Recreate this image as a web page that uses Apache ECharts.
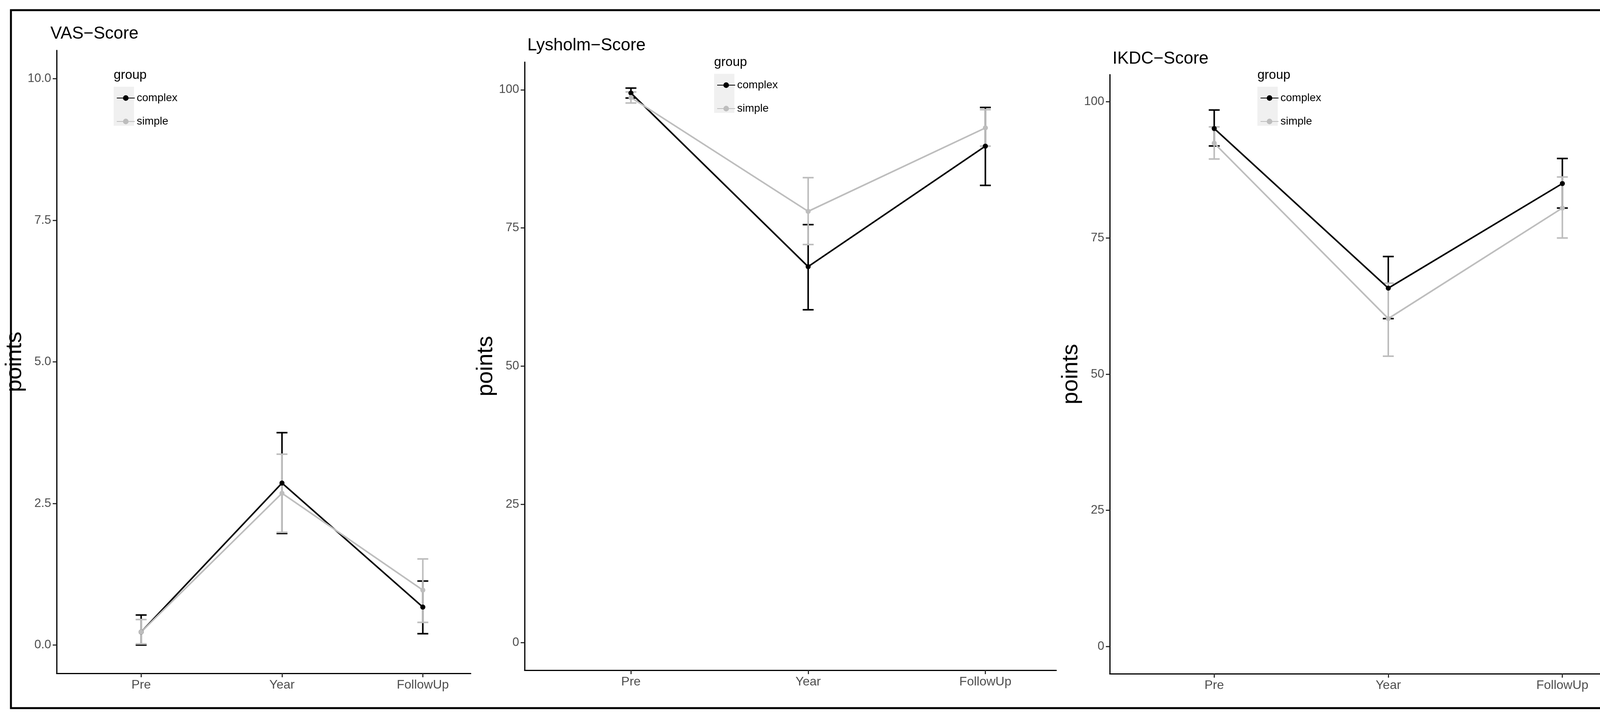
<!DOCTYPE html>
<html lang="en">
<head>
<meta charset="UTF-8">
<title>VAS / Lysholm / IKDC</title>
<script src="https://cdn.jsdelivr.net/npm/echarts@6/dist/echarts.min.js"></script>
<style>
  html, body { margin: 0; padding: 0; background: #fff; }
  #container { width: 4329px; height: 1846px; }
</style>
</head>
<body>
<div id="container"></div>
<script>
    // data
    var phases = ['Pre', 'Year', 'FollowUp'];
    var groups = ['complex', 'simple'];
    var titles = ['VAS\u2212Score', 'Lysholm\u2212Score', 'IKDC\u2212Score'];

    var vasComplex     = [0.23, 2.86, 0.67];
    var vasComplexLow  = [0.0, 1.97, 0.2];
    var vasComplexHigh = [0.53, 3.75, 1.13];
    var vasSimple      = [0.23, 2.68, 0.97];
    var vasSimpleLow   = [0.02, 1.99, 0.4];
    var vasSimpleHigh  = [0.45, 3.37, 1.52];

    var lysComplex     = [99.4, 68.0, 89.8];
    var lysComplexLow  = [98.5, 60.2, 82.7];
    var lysComplexHigh = [100.3, 75.6, 96.8];
    var lysSimple      = [98.6, 78.0, 93.1];
    var lysSimpleLow   = [97.6, 72.0, 89.8];
    var lysSimpleHigh  = [99.6, 84.1, 96.4];

    var ikdcComplex     = [95.1, 65.8, 85.0];
    var ikdcComplexLow  = [91.9, 60.2, 80.5];
    var ikdcComplexHigh = [98.5, 71.6, 89.6];
    var ikdcSimple      = [92.4, 60.2, 80.5];
    var ikdcSimpleLow   = [89.5, 53.3, 75.0];
    var ikdcSimpleHigh  = [95.4, 66.7, 86.2];

    var vasTicks = [0, 2.5, 5, 7.5, 10];
    var scoreTicks = [0, 25, 50, 75, 100];

    var colors = { complex: '#000000', simple: '#bdbdbd' };
    var FONT = 'Liberation Sans, Arial, sans-serif';

    var panels = [
        { grid: { left: 145, top: 129, width: 1060, height: 1595 }, xMax: 2.34, yMin: -0.5, yMax: 10.5, ticks: vasTicks, dec: 1,
          title: [124, 60], legend: [291, 194],
          series: { complex: [vasComplex, vasComplexLow, vasComplexHigh], simple: [vasSimple, vasSimpleLow, vasSimpleHigh] } },
        { grid: { left: 1343, top: 159, width: 1361, height: 1557 }, xMax: 2.40, yMin: -5, yMax: 105, ticks: scoreTicks, dec: 0,
          title: [1345, 90], legend: [1828, 161],
          series: { complex: [lysComplex, lysComplexLow, lysComplexHigh], simple: [lysSimple, lysSimpleLow, lysSimpleHigh] } },
        { grid: { left: 2841, top: 191, width: 1426, height: 1534 }, xMax: 2.60, yMin: -5, yMax: 105, ticks: scoreTicks, dec: 0,
          title: [2843, 124], legend: [3219, 194],
          series: { complex: [ikdcComplex, ikdcComplexLow, ikdcComplexHigh], simple: [ikdcSimple, ikdcSimpleLow, ikdcSimpleHigh] } }
    ];

    function errorBar(params, api)
    {
        var x = api.value(0);
        var lo = api.coord([x, api.value(1)]);
        var hi = api.coord([x, api.value(2)]);
        var w = 14;
        var style = { stroke: api.visual('color'), lineWidth: 4 };
        return {
            type: 'group',
            children: [
                { type: 'line', shape: { x1: lo[0], y1: lo[1], x2: hi[0], y2: hi[1] }, style: style },
                { type: 'line', shape: { x1: lo[0] - w, y1: lo[1], x2: lo[0] + w, y2: lo[1] }, style: style },
                { type: 'line', shape: { x1: hi[0] - w, y1: hi[1], x2: hi[0] + w, y2: hi[1] }, style: style }
            ]
        };
    }

    var grid = [], xAxis = [], yAxis = [], series = [], title = [], legend = [];
    var graphic = [
        { type: 'rect', shape: { x: 28, y: 26, width: 4267, height: 1787 },
          style: { fill: 'none', stroke: '#000', lineWidth: 5 }, z: 100 }
    ];

    panels.forEach(function (p, i)
    {
        var g0 = p.grid;
        g0.outerBoundsMode = 'none';
        g0.containLabel = false;
        grid.push(g0);
        xAxis.push({
            type: 'value', gridIndex: i, min: -0.6, max: p.xMax,
            splitLine: { show: false },
            axisLine: { onZero: false, lineStyle: { color: '#000', width: 3 } },
            axisTick: { customValues: [0, 1, 2], length: 10, lineStyle: { color: '#333', width: 3 } },
            axisLabel: {
                customValues: [0, 1, 2], color: '#4d4d4d', fontSize: 32, fontFamily: FONT, margin: 14,
                formatter: function (v) { return phases[Math.round(v)]; }
            }
        });
        yAxis.push({
            type: 'value', gridIndex: i, min: p.yMin, max: p.yMax,
            name: 'points', nameLocation: 'middle', nameGap: i === 0 ? 78 : 64,
            nameTextStyle: { fontSize: 58, color: '#000', fontFamily: FONT },
            splitLine: { show: false },
            axisLine: { show: true, onZero: false, lineStyle: { color: '#000', width: 3 } },
            axisTick: { show: true, customValues: p.ticks, length: 10, lineStyle: { color: '#333', width: 3 } },
            axisLabel: {
                customValues: p.ticks, color: '#4d4d4d', fontSize: 31, fontFamily: FONT, margin: 14,
                formatter: function (v) { return v.toFixed(p.dec); }
            }
        });
        title.push({
            text: titles[i], left: p.title[0], top: p.title[1],
            textStyle: { fontSize: 44, fontWeight: 'normal', color: '#000', fontFamily: FONT }
        });
        legend.push({
            data: groups, orient: 'vertical', left: p.legend[0] + 2, top: p.legend[1] + 38,
            itemWidth: 46, itemHeight: 18, itemGap: 32, selectedMode: false,
            textStyle: { fontSize: 28, color: '#000', fontFamily: FONT }
        });
        graphic.push(
            { type: 'text', left: p.legend[0], top: p.legend[1] - 18,
              style: { text: 'group', fontSize: 33, fill: '#000', fontFamily: FONT } },
            { type: 'rect', shape: { x: p.legend[0], y: p.legend[1] + 28, width: 52, height: 100 },
              style: { fill: '#f0f0f0' }, z: -1 }
        );

        groups.forEach(function (g)
        {
            var s = p.series[g];
            series.push({
                name: g, type: 'line', xAxisIndex: i, yAxisIndex: i,
                data: s[0].map(function (v, k) { return [k, v]; }),
                symbol: 'circle', symbolSize: 13,
                lineStyle: { width: 4, color: colors[g] },
                itemStyle: { color: colors[g] },
                animation: false
            });
            series.push({
                name: g + ' ci', type: 'custom', xAxisIndex: i, yAxisIndex: i,
                data: s[1].map(function (v, k) { return [k, v, s[2][k]]; }),
                renderItem: errorBar,
                itemStyle: { color: colors[g] },
                animation: false
            });
        });
    });

    var chart = echarts.init(document.getElementById('container'));
    chart.setOption({
        backgroundColor: '#fff',
        animation: false,
        title: title,
        legend: legend,
        grid: grid,
        xAxis: xAxis,
        yAxis: yAxis,
        series: series,
        graphic: graphic
    });
</script>
</body>
</html>
